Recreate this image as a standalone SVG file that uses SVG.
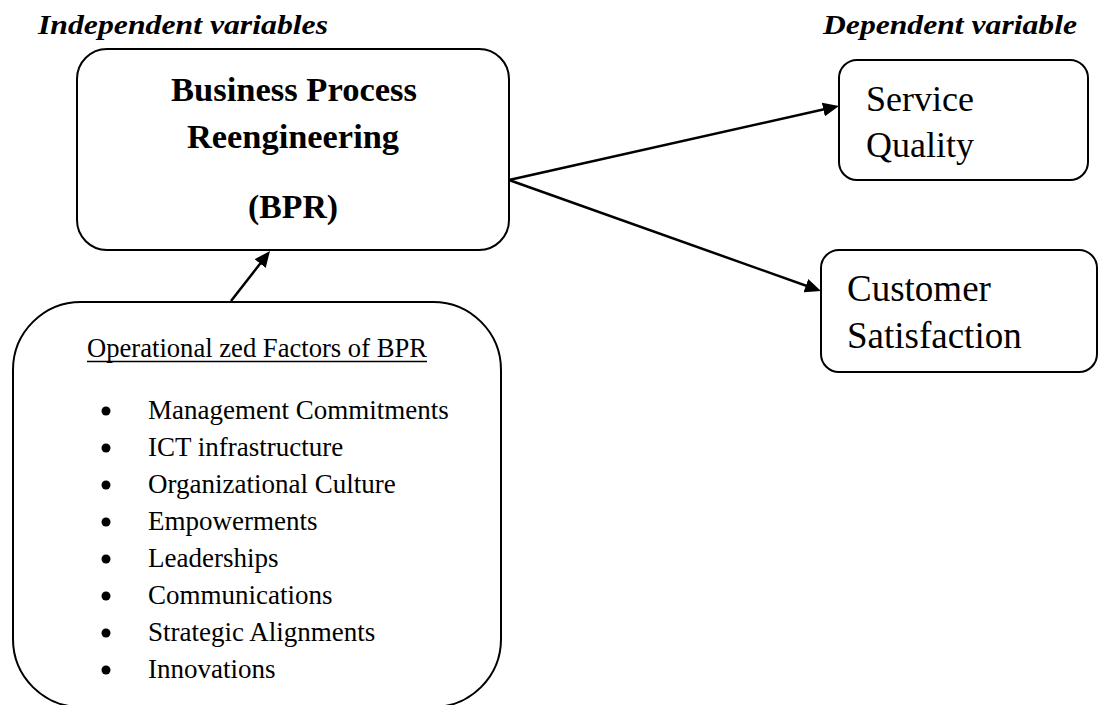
<svg xmlns="http://www.w3.org/2000/svg" width="1099" height="705" viewBox="0 0 1099 705">
<style>
.box{fill:#fff;stroke:#000;stroke-width:2}
.conn{stroke:#000;stroke-width:2.5;fill:none}
.t{font-family:"Liberation Serif","Times New Roman",serif;fill:#000}
.hd{font-weight:bold;font-style:italic;font-size:27px}
.b{font-weight:bold;font-size:33px}
.dv{font-size:36px}
.li{font-size:27px}
</style>
<defs>
<marker id="ah" markerUnits="userSpaceOnUse" markerWidth="16" markerHeight="14" refX="10" refY="7" orient="auto">
<path d="M0,0 L16,7 L0,14 z" fill="#000"/>
</marker>
</defs>
<rect width="1099" height="705" fill="#fff"/>
<text class="t hd" x="38" y="34" textLength="290" lengthAdjust="spacingAndGlyphs">Independent variables</text>
<text class="t hd" x="823" y="34" textLength="254" lengthAdjust="spacingAndGlyphs">Dependent variable</text>
<g id="bpr">
<rect class="box" x="77" y="49" width="432" height="201" rx="30"/>
<text class="t b" x="171" y="101" textLength="246" lengthAdjust="spacingAndGlyphs">Business Process</text>
<text class="t b" x="187" y="148" textLength="212" lengthAdjust="spacingAndGlyphs">Reengineering</text>
<text class="t b" x="248" y="218" textLength="90" lengthAdjust="spacingAndGlyphs">(BPR)</text>
</g>
<g id="service">
<rect class="box" x="839" y="60" width="249" height="120" rx="18"/>
<text class="t dv" x="866" y="111">Service</text>
<text class="t dv" x="866" y="157">Quality</text>
</g>
<g id="customer">
<rect class="box" x="821" y="250" width="276" height="122" rx="18"/>
<text class="t dv" x="847" y="301" style="font-size:37px">Customer</text>
<text class="t dv" x="847" y="348" style="font-size:37px">Satisfaction</text>
</g>
<g id="factors">
<rect class="box" x="13" y="302" width="488" height="405" rx="68"/>
<text class="t li" x="87" y="357" textLength="340" lengthAdjust="spacingAndGlyphs">Operational zed Factors of BPR</text>
<line x1="87" y1="361.5" x2="427" y2="361.5" stroke="#000" stroke-width="1.5"/>
<g fill="#000">
<circle cx="106" cy="411" r="4.5"/>
<circle cx="106" cy="448" r="4.5"/>
<circle cx="106" cy="485" r="4.5"/>
<circle cx="106" cy="522" r="4.5"/>
<circle cx="106" cy="559" r="4.5"/>
<circle cx="106" cy="596" r="4.5"/>
<circle cx="106" cy="633" r="4.5"/>
<circle cx="106" cy="670" r="4.5"/>
</g>
<text class="t li" x="148" y="419">Management Commitments</text>
<text class="t li" x="148" y="456">ICT infrastructure</text>
<text class="t li" x="148" y="493">Organizational Culture</text>
<text class="t li" x="148" y="530">Empowerments</text>
<text class="t li" x="148" y="567">Leaderships</text>
<text class="t li" x="148" y="604">Communications</text>
<text class="t li" x="148" y="641">Strategic Alignments</text>
<text class="t li" x="148" y="678">Innovations</text>
</g>
<g id="connectors">
<line class="conn" x1="509" y1="180" x2="833.1" y2="107.3" marker-end="url(#ah)"/>
<line class="conn" x1="509" y1="180" x2="815.3" y2="289" marker-end="url(#ah)"/>
<line class="conn" x1="231" y1="301" x2="266.3" y2="255.7" marker-end="url(#ah)"/>
</g>
</svg>
